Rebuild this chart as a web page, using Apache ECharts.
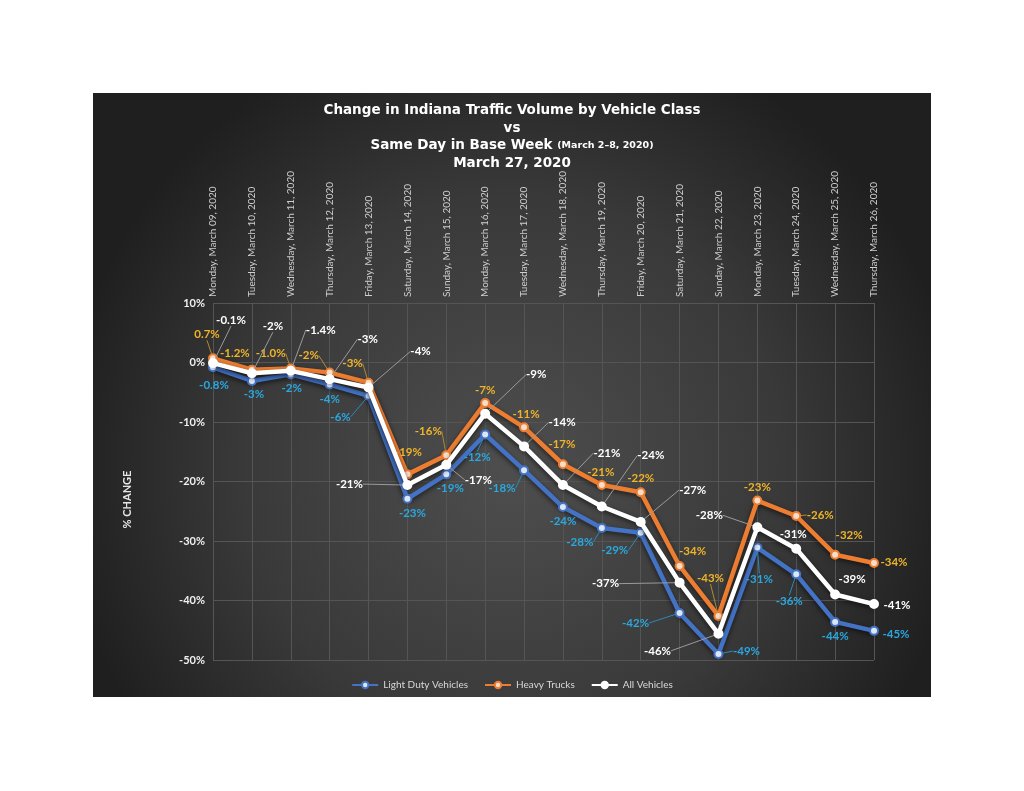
<!DOCTYPE html>
<html><head><meta charset="utf-8">
<script src="https://cdn.jsdelivr.net/npm/echarts@6/dist/echarts.min.js"></script>
<style>html,body{margin:0;padding:0;background:#fff}#c{width:1024px;height:791px}</style>
</head><body><div id="c"></div>
<script>
var categories = ["Monday, March 09, 2020","Tuesday, March 10, 2020","Wednesday, March 11, 2020","Thursday, March 12, 2020","Friday, March 13, 2020","Saturday, March 14, 2020","Sunday, March 15, 2020","Monday, March 16, 2020","Tuesday, March 17, 2020","Wednesday, March 18, 2020","Thursday, March 19, 2020","Friday, March 20, 2020","Saturday, March 21, 2020","Sunday, March 22, 2020","Monday, March 23, 2020","Tuesday, March 24, 2020","Wednesday, March 25, 2020","Thursday, March 26, 2020"];
var lightDuty = [-0.8,-3.1,-2.0,-3.7,-5.6,-22.9,-18.8,-12.1,-18.1,-24.3,-27.8,-28.6,-42.1,-49.0,-31.1,-35.6,-43.6,-45.1];
var heavyTrucks = [0.7,-1.2,-1.0,-1.7,-3.4,-18.8,-15.6,-6.8,-10.9,-17.1,-20.6,-21.8,-34.2,-42.6,-23.2,-25.8,-32.3,-33.7];
var allVehicles = [-0.1,-1.8,-1.4,-2.8,-4.2,-20.6,-17.2,-8.6,-14.1,-20.6,-24.2,-26.8,-37.0,-45.6,-27.7,-31.3,-39.0,-40.6];
var yTicks = [10,0,-10,-20,-30,-40,-50];

// label callout offsets (style only)
var offLight = [[1,18],[2,13],[1,14],[0,15],[-28,21],[5,15],[4,14],[-8,23],[-22,18],[0,14],[-22,14],[-26,18],[-44,10],[28,-3],[2,32],[-7,27],[0,14],[22,3]];
var offHeavy = [[-6,-24],[-17,-16],[-20,-15],[-21,-17],[-16,-19],[1,-22],[-18,-24],[0,-13],[2,-13],[-1,-20],[-1,-13],[0,-14],[13,-15],[-8,-38],[0,-13],[24,-1],[14,-19],[20,-1]];
var offAll = [[18,-43],[21,-47],[30,-41],[38,-40],[52,-36],[-58,-1],[32,15],[51,-39],[38,-24],[44,-32],[49,-51],[52,-32],[-74,1],[-61,17],[-48,-12],[-3,-14],[17,-15],[23,1]];

function fmt(v){ return Math.abs(v) < 1.5 ? v.toFixed(1) + '%' : Math.round(v) + '%'; }
function mk(vals, offs){
  return vals.map(function(v,i){
    var o = offs[i];
    return {value: v, labelLine: {show: Math.sqrt(o[0]*o[0]+o[1]*o[1]) > 24}};
  });
}
function mkSeries(name, vals, offs, color, fill, lblColor, guideColor, z){
  return {
    name: name, type: 'line', data: mk(vals, offs), z: z,
    symbol: 'circle', symbolSize: 8,
    lineStyle: {color: color, width: 4.5, shadowBlur: 5, shadowColor: 'rgba(0,0,0,0.6)', shadowOffsetY: 2},
    itemStyle: {color: fill, borderColor: color, borderWidth: 2},
    label: {show: true, position: 'inside', color: lblColor, fontFamily: 'Lato', fontWeight: 'bold', fontSize: 11.5,
            formatter: function(p){ return fmt(p.value); }},
    labelLine: {show: true, lineStyle: {color: guideColor, width: 1}},
    labelLayout: function(p){ var o = offs[p.dataIndex]; return {dx: o[0], dy: o[1]}; },
    emphasis: {disabled: true}
  };
}

var chart = echarts.init(document.getElementById('c'));
chart.setOption({
  backgroundColor: '#ffffff',
  animation: false,
  graphic: [{
    type: 'rect', z: -10, silent: true,
    shape: {x: 93, y: 93, width: 838, height: 604},
    style: {fill: {type: 'radial', x: 0.5, y: 0.62, r: 0.75,
      colorStops: [{offset: 0, color: '#4e4e4e'}, {offset: 0.6, color: '#393939'}, {offset: 1, color: '#1f1f1f'}]}}
  }],
  title: {
    left: 'center', top: 97,
    text: 'Change in Indiana Traffic Volume by Vehicle Class\nvs\nSame Day in Base Week {s|(March 2\u20138, 2020)}\nMarch 27, 2020',
    textStyle: {color: '#ffffff', fontFamily: 'DejaVu Sans', fontWeight: 'bold', fontSize: 13.5, lineHeight: 17.5,
      rich: {s: {color: '#ffffff', fontFamily: 'DejaVu Sans', fontWeight: 'bold', fontSize: 9.5, lineHeight: 17.5}}}
  },
  legend: {
    top: 675, left: 'center', itemWidth: 26, itemHeight: 8, itemGap: 16,
    textStyle: {color: '#d9d9d9', fontFamily: 'Lato', fontSize: 10},
    data: ['Light Duty Vehicles', 'Heavy Trucks', 'All Vehicles']
  },
  grid: {left: 213, right: 150, top: 303, bottom: 131},
  xAxis: {
    type: 'category', position: 'top', boundaryGap: false, data: categories,
    axisLine: {show: false}, axisTick: {show: false},
    splitLine: {show: true, lineStyle: {color: '#555555', width: 1}},
    axisLabel: {rotate: 90, interval: 0, color: '#cfcfcf', fontFamily: 'Lato', fontSize: 10, margin: 6}
  },
  yAxis: {
    type: 'value', min: -50, max: 10, interval: 10,
    name: '% CHANGE', nameLocation: 'middle', nameGap: 80, nameRotate: 90,
    nameTextStyle: {color: '#e6e6e6', fontFamily: 'Lato', fontWeight: 'bold', fontSize: 11, padding: [0, 0, 0, -36]},
    axisLine: {show: false}, axisTick: {show: false},
    splitLine: {lineStyle: {color: '#555555', width: 1}},
    axisLabel: {formatter: '{value}%', color: '#f0f0f0', fontFamily: 'Lato', fontWeight: 'bold', fontSize: 11, margin: 8}
  },
  series: [
    mkSeries('Light Duty Vehicles', lightDuty, offLight, '#4472c4', '#dbe6f7', '#2aa8e0', '#2a8ab8', 2),
    mkSeries('Heavy Trucks', heavyTrucks, offHeavy, '#ed7d31', '#f7dcc8', '#f0b429', '#b08a30', 3),
    mkSeries('All Vehicles', allVehicles, offAll, '#ffffff', '#ffffff', '#ffffff', '#9a9a9a', 4)
  ]
});
</script></body></html>
